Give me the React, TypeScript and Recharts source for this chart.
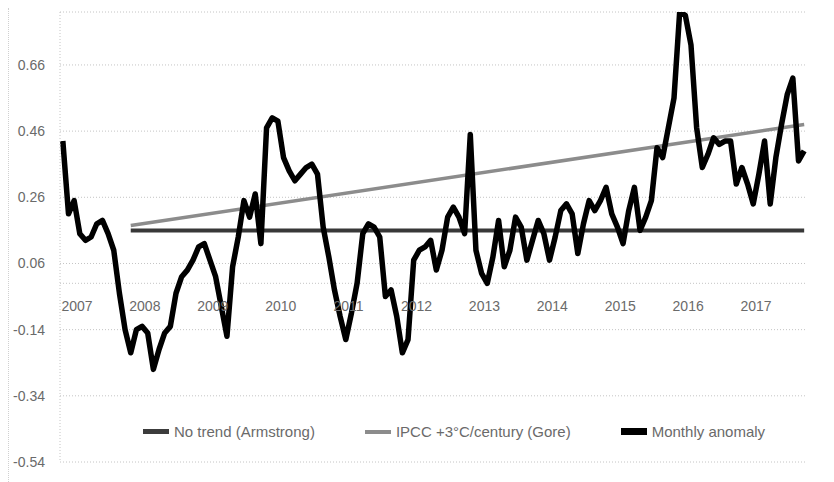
import React from 'react';
import { LineChart, Line, XAxis, YAxis, CartesianGrid, ReferenceLine, ReferenceDot } from 'recharts';

// Monthly temperature anomaly (one value per month, 2007 .. late 2017)
const monthlyAnomaly = [
  0.43, 0.21, 0.25, 0.15, 0.13, 0.14, 0.18, 0.19, 0.15, 0.10,
  -0.03, -0.14, -0.21, -0.14, -0.13, -0.15, -0.26, -0.20, -0.15, -0.13,
  -0.03, 0.02, 0.04, 0.07, 0.11, 0.12, 0.07, 0.02, -0.07, -0.16,
  0.05, 0.14, 0.25, 0.20, 0.27, 0.12, 0.47, 0.50, 0.49, 0.38,
  0.34, 0.31, 0.33, 0.35, 0.36, 0.33, 0.17, 0.08, -0.02, -0.10,
  -0.17, -0.09, 0.00, 0.15, 0.18, 0.17, 0.14, -0.04, -0.02, -0.10,
  -0.21, -0.17, 0.07, 0.10, 0.11, 0.13, 0.04, 0.10, 0.20, 0.23,
  0.20, 0.15, 0.45, 0.10, 0.03, 0.00, 0.08, 0.19, 0.05, 0.10,
  0.20, 0.17, 0.07, 0.13, 0.19, 0.15, 0.07, 0.14, 0.22, 0.24,
  0.21, 0.09, 0.18, 0.25, 0.22, 0.25, 0.29, 0.21, 0.17, 0.12,
  0.22, 0.29, 0.16, 0.20, 0.25, 0.41, 0.38, 0.47, 0.56, 0.82,
  0.81, 0.72, 0.47, 0.35, 0.39, 0.44, 0.42, 0.43, 0.43, 0.30,
  0.35, 0.30, 0.24, 0.33, 0.43, 0.24, 0.38, 0.48, 0.57, 0.62,
  0.37, 0.40,
];

// Trend lines: start and end points (month index, anomaly)
const noTrendPoints = [
  { m: 12, y: 0.16 },
  { m: 131, y: 0.16 },
];
const ipccPoints = [
  { m: 12, y: 0.175 },
  { m: 131, y: 0.48 },
];

const yearLabels = ['2007', '2008', '2009', '2010', '2011', '2012', '2013', '2014', '2015', '2016', '2017'];
const yearLabelMonth = [2.5, 14.5, 26.5, 38.5, 50.5, 62.5, 74.5, 86.5, 98.5, 110.5, 122.5];
const yTicks = [-0.54, -0.34, -0.14, 0.06, 0.26, 0.46, 0.66];
const yDomain: [number, number] = [-0.54, 0.82];

const legendItems = [
  { name: 'No trend (Armstrong)', color: '#3c3c3c', width: 5 },
  { name: 'IPCC +3°C/century (Gore)', color: '#8c8c8c', width: 4 },
  { name: 'Monthly anomaly', color: '#000000', width: 7 },
];

const data = monthlyAnomaly.map((v, i) => ({ m: i, anomaly: v }));

const FONT = '"Liberation Sans", Arial, sans-serif';
const TEXT = '#6a6a6a';
const GRID = '#c4c4c4';

export default function App() {
  return (
    <div style={{ position: 'relative', width: 826, height: 474, fontFamily: FONT, borderLeft: '1px dotted #d0d0d0', boxSizing: 'border-box' }}>
      <LineChart width={825} height={474} data={data} margin={{ top: 4, right: 27, left: 0, bottom: 20 }}>
        <CartesianGrid vertical={false} stroke={GRID} strokeDasharray="1 2" />
        <XAxis type="number" dataKey="m" domain={[-0.5, monthlyAnomaly.length - 0.5]} hide />
        <YAxis
          type="number"
          domain={yDomain}
          ticks={yTicks}
          allowDataOverflow
          width={51}
          tickLine={false}
          tickMargin={9}
          axisLine={{ stroke: GRID, strokeDasharray: '1 2' }}
          tickFormatter={(v: number) => v.toFixed(2)}
          tick={{ fontSize: 14, fill: TEXT, fontFamily: FONT }}
        />
        <ReferenceLine y={0} stroke={GRID} strokeDasharray="1 2" />
        {yearLabels.map((yr, i) => (
          <ReferenceDot
            key={yr}
            x={yearLabelMonth[i]}
            y={0}
            r={1}
            fill="none"
            stroke="none"
            label={{ value: yr, position: 'bottom', offset: 17, fontSize: 14, fill: TEXT, fontFamily: FONT }}
          />
        ))}
        <Line
          data={noTrendPoints}
          dataKey="y"
          type="linear"
          stroke="#383838"
          strokeWidth={4}
          dot={false}
          isAnimationActive={false}
        />
        <Line
          data={ipccPoints}
          dataKey="y"
          type="linear"
          stroke="#8c8c8c"
          strokeWidth={3.5}
          dot={false}
          isAnimationActive={false}
        />
        <Line
          dataKey="anomaly"
          type="linear"
          stroke="#000000"
          strokeWidth={5.5}
          strokeLinejoin="round"
          dot={false}
          isAnimationActive={false}
        />
      </LineChart>
      <div
        style={{
          position: 'absolute',
          left: 134,
          top: 415,
          display: 'flex',
          alignItems: 'center',
          gap: 50,
          fontSize: 15,
          color: TEXT,
          whiteSpace: 'nowrap',
        }}
      >
        {legendItems.map((it) => (
          <div key={it.name} style={{ display: 'flex', alignItems: 'center' }}>
            <div style={{ width: 26, height: it.width, background: it.color, marginRight: 5 }} />
            <span>{it.name}</span>
          </div>
        ))}
      </div>
    </div>
  );
}
